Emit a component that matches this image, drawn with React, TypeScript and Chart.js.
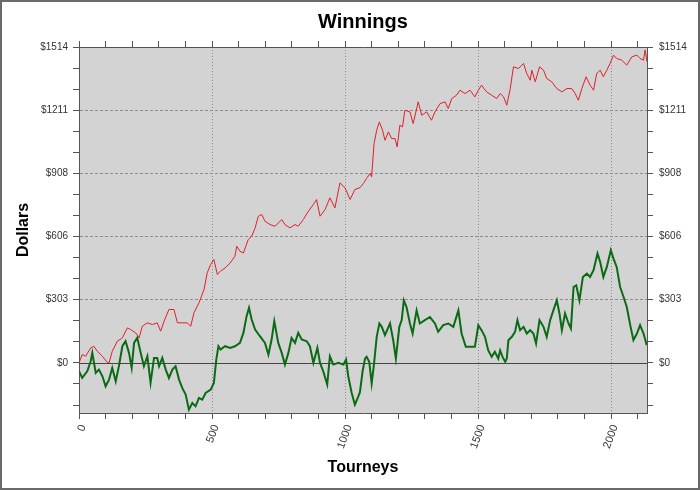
import React, { useEffect, useRef } from 'react';
import { Chart, registerables } from 'chart.js';

Chart.register(...registerables);

// Red series (upper line)
const redTourneys = [0, 12, 25, 44, 56, 69, 88, 106, 113, 125, 144, 163, 182, 194, 213, 226, 238, 257, 276, 294, 307, 320, 338, 357, 370, 388, 407, 420, 432, 451, 470, 482, 495, 507, 520, 532, 549, 568, 586, 593, 605, 618, 636, 649, 662, 674, 687, 699, 718, 737, 762, 774, 793, 812, 824, 843, 862, 881, 893, 906, 925, 943, 962, 981, 1000, 1019, 1037, 1056, 1069, 1081, 1094, 1100, 1109, 1119, 1129, 1141, 1150, 1163, 1175, 1188, 1196, 1206, 1216, 1225, 1244, 1256, 1275, 1288, 1307, 1325, 1338, 1357, 1376, 1388, 1401, 1419, 1432, 1451, 1470, 1488, 1501, 1513, 1532, 1551, 1570, 1583, 1596, 1608, 1621, 1633, 1652, 1671, 1683, 1696, 1702, 1715, 1731, 1746, 1758, 1777, 1796, 1815, 1834, 1852, 1865, 1877, 1890, 1906, 1921, 1934, 1946, 1959, 1971, 1984, 1996, 2009, 2021, 2040, 2059, 2078, 2097, 2109, 2122, 2128, 2135];
const redDollars = [0, 40, 32, 72, 80, 56, 32, 3, 0, 56, 104, 120, 168, 160, 144, 120, 176, 192, 184, 192, 152, 200, 256, 256, 192, 192, 192, 176, 240, 288, 352, 432, 472, 496, 424, 440, 455, 479, 511, 559, 535, 527, 591, 607, 647, 703, 711, 679, 663, 655, 687, 663, 647, 663, 655, 687, 727, 759, 783, 703, 735, 791, 743, 863, 839, 783, 831, 840, 860, 884, 908, 892, 1051, 1115, 1155, 1115, 1067, 1107, 1075, 1075, 1035, 1139, 1131, 1211, 1203, 1147, 1251, 1187, 1203, 1163, 1203, 1243, 1251, 1219, 1267, 1283, 1307, 1291, 1307, 1275, 1307, 1331, 1299, 1283, 1267, 1291, 1275, 1235, 1315, 1419, 1411, 1435, 1387, 1355, 1403, 1347, 1419, 1403, 1363, 1347, 1315, 1299, 1315, 1315, 1291, 1259, 1315, 1371, 1331, 1307, 1387, 1403, 1371, 1403, 1435, 1475, 1459, 1451, 1427, 1467, 1475, 1459, 1451, 1500, 1443];

// Green series (lower line)
const greenTourneys = [0, 12, 31, 44, 50, 63, 75, 88, 100, 113, 125, 138, 150, 163, 175, 188, 198, 207, 219, 232, 244, 257, 269, 282, 294, 301, 313, 326, 338, 351, 363, 376, 388, 401, 413, 426, 438, 451, 463, 476, 495, 507, 516, 524, 532, 549, 568, 586, 605, 618, 630, 639, 649, 662, 680, 699, 712, 724, 734, 749, 762, 774, 787, 799, 812, 824, 837, 856, 868, 881, 896, 906, 918, 933, 943, 956, 975, 994, 1004, 1012, 1025, 1037, 1050, 1056, 1066, 1075, 1081, 1091, 1100, 1109, 1119, 1129, 1138, 1150, 1169, 1181, 1191, 1204, 1213, 1221, 1231, 1244, 1254, 1269, 1281, 1300, 1319, 1338, 1350, 1369, 1388, 1407, 1426, 1438, 1454, 1470, 1488, 1501, 1513, 1526, 1538, 1551, 1563, 1576, 1583, 1592, 1602, 1608, 1614, 1627, 1639, 1648, 1658, 1671, 1683, 1696, 1708, 1718, 1731, 1746, 1758, 1771, 1783, 1796, 1806, 1815, 1827, 1840, 1849, 1859, 1869, 1881, 1894, 1909, 1921, 1934, 1949, 1959, 1971, 1984, 1999, 2009, 2021, 2034, 2047, 2059, 2072, 2084, 2097, 2109, 2122, 2134];
const greenDollars = [-40, -72, -40, 8, 48, -48, -32, -64, -112, -80, -24, -88, -16, 80, 104, 48, -24, 96, 120, 48, -16, 32, -96, 24, 24, -16, 24, -32, -72, -32, -16, -80, -120, -152, -224, -192, -208, -168, -176, -144, -128, -96, 16, 80, 64, 80, 72, 80, 96, 144, 224, 264, 208, 160, 128, 96, 40, 112, 200, 96, 48, -8, 48, 120, 96, 144, 112, 104, 80, 0, 72, 0, -40, -104, 32, -8, 0, -8, 16, -64, -144, -200, -160, -140, -40, 20, 29, 5, -99, -3, 125, 189, 173, 133, 189, 109, 21, 173, 205, 300, 268, 189, 141, 252, 189, 205, 220, 189, 149, 181, 189, 173, 252, 141, 77, 77, 77, 181, 157, 125, 61, 29, 53, 21, 60, 29, 5, 21, 109, 125, 149, 205, 157, 173, 141, 157, 141, 93, 205, 173, 125, 205, 252, 300, 237, 157, 237, 189, 165, 364, 372, 300, 412, 428, 412, 444, 524, 484, 412, 460, 540, 500, 460, 364, 316, 268, 181, 109, 141, 181, 141, 85];

const yTickLabels = ['$0', '$303', '$606', '$908', '$1211', '$1514'];
const xTickLabels = ['0', '500', '1000', '1500', '2000'];

const X_MAX = 2135;
const Y_MIN = -240;
const Y_MAX = 1514;
const Y_STEP = 1514 / 15;

const FONT = '"Liberation Sans", Arial, Helvetica, sans-serif';

function xTicks(scale: any) {
  const t = [];
  for (let v = 0; v <= 2100; v += 100) t.push({ value: v });
  scale.ticks = t;
}
function yTicks(scale: any) {
  const t = [];
  for (let k = -2; k <= 15; k++) t.push({ value: k * Y_STEP });
  scale.ticks = t;
}
function yLabel(value: number) {
  const k = Math.round(value / Y_STEP);
  if (k >= 0 && k % 3 === 0) return yTickLabels[k / 3];
  return '';
}
function xLabel(value: number) {
  const v = Math.round(value);
  if (v % 500 === 0) return xTickLabels[v / 500];
  return '';
}
function yGridColor(ctx: any) {
  const v = ctx.tick ? ctx.tick.value : 0;
  const k = Math.round(v / Y_STEP);
  return k > 0 && k % 3 === 0 ? '#8c8c8c' : 'rgba(0,0,0,0)';
}
function xGridColor(ctx: any) {
  const v = ctx.tick ? Math.round(ctx.tick.value) : 0;
  return v > 0 && v % 500 === 0 ? '#8c8c8c' : 'rgba(0,0,0,0)';
}

const decoPlugin = {
  id: 'deco',
  beforeDraw(chart: any) {
    const { ctx, chartArea } = chart;
    ctx.save();
    ctx.fillStyle = '#ffffff';
    ctx.fillRect(0, 0, chart.width, chart.height);
    ctx.fillStyle = '#d3d3d3';
    ctx.fillRect(chartArea.left, chartArea.top, chartArea.right - chartArea.left, chartArea.bottom - chartArea.top);
    ctx.restore();
  },
  beforeDatasetsDraw(chart: any) {
    const { ctx, chartArea } = chart;
    const y = Math.round(chart.scales.y.getPixelForValue(0)) + 0.5;
    ctx.save();
    ctx.strokeStyle = '#444444';
    ctx.lineWidth = 1;
    ctx.beginPath();
    ctx.moveTo(chartArea.left, y);
    ctx.lineTo(chartArea.right, y);
    ctx.stroke();
    ctx.restore();
  },
  afterDraw(chart: any) {
    const { ctx } = chart;
    ctx.save();
    ctx.strokeStyle = '#6a6a6a';
    ctx.lineWidth = 2;
    ctx.strokeRect(1, 1, chart.width - 2, chart.height - 2);
    ctx.restore();
  },
};

export default function App() {
  const ref = useRef<HTMLCanvasElement | null>(null);

  useEffect(() => {
    if (!ref.current) return;
    const red = redTourneys.map((t, i) => ({ x: t, y: redDollars[i] }));
    const green = greenTourneys.map((t, i) => ({ x: t, y: greenDollars[i] }));
    const tickFont = { family: FONT, size: 10 };
    const chart = new Chart(ref.current, {
      type: 'line',
      data: {
        datasets: [
          {
            label: 'Red',
            data: red,
            borderColor: '#e0202a',
            borderWidth: 1,
            pointRadius: 0,
            tension: 0,
            order: 2,
          },
          {
            label: 'Green',
            data: green,
            borderColor: '#0b6b14',
            borderWidth: 2,
            pointRadius: 0,
            tension: 0,
            order: 1,
          },
        ],
      },
      options: {
        responsive: false,
        animation: false,
        layout: { padding: 0 },
        plugins: {
          legend: { display: false },
          tooltip: { enabled: false },
          title: {
            display: true,
            text: 'Winnings',
            fullSize: false,
            color: '#000000',
            font: { family: FONT, size: 20, weight: 'bold' },
            padding: { top: 10, bottom: 6 },
          },
        },
        scales: {
          x: {
            type: 'linear',
            position: 'bottom',
            min: 0,
            max: X_MAX,
            afterBuildTicks: xTicks,
            afterFit: (s: any) => { s.height = 77; },
            ticks: {
              autoSkip: false,
              minRotation: 70,
              maxRotation: 70,
              padding: 4,
              labelOffset: 4,
              color: '#333333',
              font: { family: FONT, size: 11 },
              callback: (v: any) => xLabel(Number(v)),
            },
            grid: {
              color: xGridColor,
              tickColor: '#555555',
              tickLength: 6,
              lineWidth: 1,
            },
            border: { color: '#555555', width: 1, dash: [1, 2] },
            title: {
              display: true,
              text: 'Tourneys',
              color: '#000000',
              font: { family: FONT, size: 16, weight: 'bold' },
              padding: { top: 0, bottom: 13 },
            },
          },
          x2: {
            type: 'linear',
            position: 'top',
            min: 0,
            max: X_MAX,
            afterBuildTicks: xTicks,
            afterFit: (s: any) => { s.height = 7; },
            ticks: { display: false },
            grid: {
              drawOnChartArea: false,
              tickColor: '#555555',
              tickLength: 6,
            },
            border: { color: '#555555', width: 1 },
          },
          y: {
            type: 'linear',
            position: 'left',
            min: Y_MIN,
            max: Y_MAX,
            afterBuildTicks: yTicks,
            afterFit: (s: any) => { s.width = 79; },
            ticks: {
              autoSkip: false,
              padding: 5,
              color: '#333333',
              font: tickFont,
              callback: (v: any) => yLabel(Number(v)),
            },
            grid: {
              color: yGridColor,
              tickColor: '#555555',
              tickLength: 6,
              lineWidth: 1,
            },
            border: { color: '#555555', width: 1, dash: [3, 2] },
            title: {
              display: true,
              text: 'Dollars',
              color: '#000000',
              font: { family: FONT, size: 16, weight: 'bold' },
              padding: { top: 14, bottom: 0 },
            },
          },
          y2: {
            type: 'linear',
            position: 'right',
            min: Y_MIN,
            max: Y_MAX,
            afterBuildTicks: yTicks,
            afterFit: (s: any) => { s.width = 53; },
            ticks: {
              autoSkip: false,
              padding: 6,
              color: '#333333',
              font: tickFont,
              callback: (v: any) => yLabel(Number(v)),
            },
            grid: {
              drawOnChartArea: false,
              tickColor: '#555555',
              tickLength: 6,
            },
            border: { color: '#555555', width: 1 },
          },
        },
      },
      plugins: [decoPlugin],
    } as any);
    return () => chart.destroy();
  }, []);

  return (
    <div style={{ position: 'fixed', left: 0, top: 0, width: 700, height: 490, background: '#fff' }}>
      <canvas ref={ref} width={700} height={490} style={{ display: 'block', width: 700, height: 490 }} />
    </div>
  );
}
